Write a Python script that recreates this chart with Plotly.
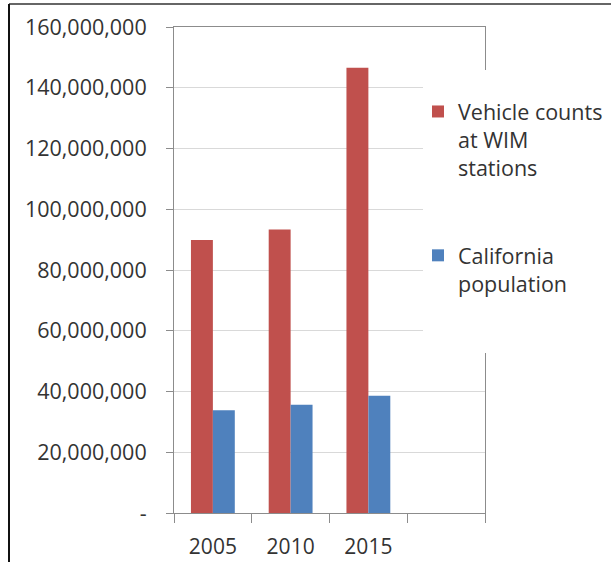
import plotly.graph_objects as go

categories = ["2005", "2010", "2015"]
vehicle_counts = [89900000, 93300000, 146600000]
ca_population = [33800000, 35600000, 38600000]
series_names = ["Vehicle counts<br>at WIM<br>stations", "California<br>population"]
y_tickvals = [0, 20000000, 40000000, 60000000, 80000000, 100000000, 120000000, 140000000, 160000000]
y_ticktext = ["-", "20,000,000", "40,000,000", "60,000,000", "80,000,000",
              "100,000,000", "120,000,000", "140,000,000", "160,000,000"]

xpos = list(range(len(categories)))

W, H = 611, 562
L, R, T, B = 174, 126, 27, 49
pw, ph = W - L - R, H - T - B


def px_x(x):
    return (x - L) / pw


def px_y(y):
    return (H - B - y) / ph


fig = go.Figure()
fig.add_trace(go.Bar(x=xpos, y=vehicle_counts, name=series_names[0],
                     marker=dict(color="#C0504D", line=dict(width=0)),
                     legendgroup="a"))
fig.add_trace(go.Bar(x=xpos, y=ca_population, name=series_names[1],
                     marker=dict(color="#4F81BD", line=dict(width=0)),
                     legendgroup="b"))

font_fam = "Open Sans, Noto Sans, sans-serif"
fig.update_layout(
    width=W, height=H,
    margin=dict(l=L, r=R, t=T, b=B, autoexpand=False),
    paper_bgcolor="white", plot_bgcolor="white",
    barmode="group", bargap=0.436, bargroupgap=0,
    font=dict(family=font_fam, size=21, color="#333333"),
    showlegend=True,
    legend=dict(x=px_x(418), y=px_y(91), xanchor="left", yanchor="top",
                bgcolor="rgba(0,0,0,0)", valign="top", tracegroupgap=57,
                font=dict(size=21.5, color="#333333"), traceorder="grouped"),
    xaxis=dict(range=[-0.5, 3.5], tickvals=xpos, ticktext=categories,
               ticks="", showgrid=False, showline=True, linecolor="#8c8c8c",
               linewidth=1, mirror=True, zeroline=False, ticklabelstandoff=15,
               automargin=False,
               tickfont=dict(size=21, color="#333333"),
               minor=dict(tickvals=[-0.5, 0.5, 1.5, 2.5, 3.5], ticks="outside",
                          ticklen=9, tickcolor="#8c8c8c", tickwidth=1, showgrid=False)),
    yaxis=dict(range=[0, 160000000], tickvals=y_tickvals, ticktext=y_ticktext,
               ticks="outside", ticklen=7, tickcolor="#8c8c8c", tickwidth=1,
               showgrid=True, gridcolor="#d9d9d9", gridwidth=1,
               showline=True, linecolor="#8c8c8c", linewidth=1, mirror=True,
               zeroline=False, ticklabelstandoff=15, automargin=False,
               tickfont=dict(size=21.5, color="#333333")),
    shapes=[
        dict(type="rect", xref="paper", yref="paper", layer="above",
             x0=px_x(423), x1=px_x(W + 5), y0=px_y(353), y1=px_y(70),
             fillcolor="white", line=dict(width=0)),
        dict(type="line", xref="paper", yref="paper", layer="above",
             x0=px_x(9), x1=px_x(W + 5), y0=px_y(4), y1=px_y(4),
             line=dict(color="#666666", width=2)),
        dict(type="line", xref="paper", yref="paper", layer="above",
             x0=px_x(9), x1=px_x(9), y0=px_y(4), y1=px_y(H + 5),
             line=dict(color="#111111", width=2)),
    ],
)

fig.write_html("out.html")
